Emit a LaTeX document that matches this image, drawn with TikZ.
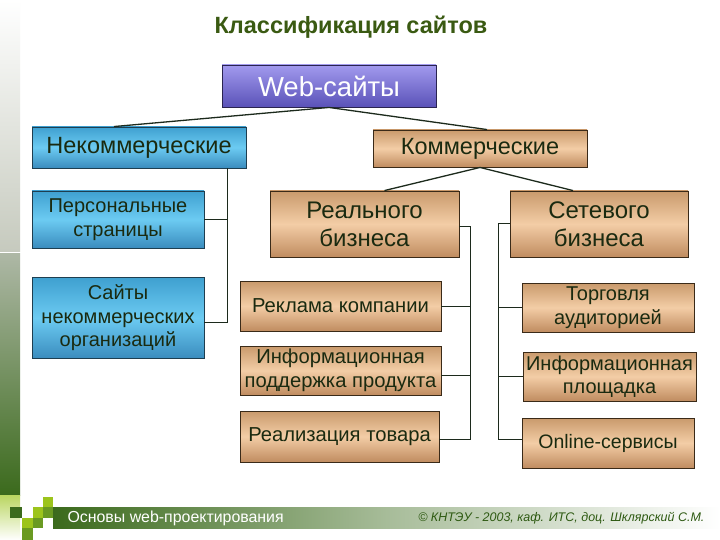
\documentclass[tikz,border=0pt]{standalone}
\usepackage{fontspec}
\setmainfont{Liberation Sans}
\definecolor{txtdark}{HTML}{1A2A10}
\definecolor{titlegreen}{HTML}{3A5A12}
\definecolor{copygreen}{HTML}{2E5A12}
\definecolor{linec}{HTML}{1C2A1C}
\definecolor{blueT}{HTML}{3FA0D0}
\definecolor{blueM}{HTML}{6CCBF2}
\definecolor{blueB}{HTML}{3A8CBE}
\definecolor{blueD}{HTML}{1E3E50}
\definecolor{tanT}{HTML}{C99A6C}
\definecolor{tanM}{HTML}{F3CDA6}
\definecolor{tanB}{HTML}{C08C60}
\definecolor{tanD}{HTML}{3A2A18}
\definecolor{purT}{HTML}{A29AEE}
\definecolor{purB}{HTML}{5A52B8}
\definecolor{purD}{HTML}{2A2450}
\definecolor{gDark}{HTML}{3B6A1C}
\definecolor{gMid}{HTML}{6A9A22}
\definecolor{gLight}{HTML}{9CC41C}
\definecolor{sideTop}{HTML}{C6CABE}
\definecolor{sideMid}{HTML}{AEB8A6}
\tikzset{
  box/.style={rectangle, inner sep=0pt, align=center, text=txtdark, line width=0.9pt},
  bluebox/.style={box, draw=blueD, top color=blueT, bottom color=blueB, middle color=blueM},
  tanbox/.style={box, draw=tanD, top color=tanT, bottom color=tanB, middle color=tanM},
  purbox/.style={box, draw=purD, top color=purT, bottom color=purB, text=white},
  conn/.style={draw=linec, line width=1pt},
  fs/.code={\pgfmathsetmacro\fsbl{#1*1.17}\tikzset{font=\fontsize{#1}{\fsbl}\selectfont}}
}
\begin{document}
\begin{tikzpicture}[x=1pt,y=-1pt]
\useasboundingbox (0,0) rectangle (720,540);
\fill[white] (0,0) rectangle (720,540);
% sidebar
\fill[top color=white, bottom color=sideTop] (0,0) rectangle (20,251);
\fill[top color=sideMid, bottom color=gDark] (0,253) rectangle (20,495);
\fill[top color=gLight!70, bottom color=white] (0,495) rectangle (20,540);
% bottom bar
\fill[left color=gDark, right color=white, middle color=gDark!45!white] (53,507) rectangle (720,528);
% squares
\fill[gLight] (43,497) rectangle (53,507);
\fill[gDark] (10,507) rectangle (22,518);
\fill[gLight] (33,507) rectangle (43,518);
\fill[gMid] (43,507) rectangle (53,518);
\fill[gLight] (22,518) rectangle (33,528);
\fill[gMid] (33,518) rectangle (43,528);
\fill[gMid] (22,528) rectangle (33,540);

% title
\node[text=titlegreen, font=\bfseries\fontsize{23.5}{27}\selectfont] (title) at (351,27) {Классификация сайтов};

% boxes
\node[purbox, minimum width=214pt, minimum height=42pt, fs=27.5] (web) at (329,86) {Web-сайты};
\node[bluebox, minimum width=214pt, minimum height=41pt, fs=23.5] (nonc) at (139,147.5) {Некоммерческие};
\node[tanbox, minimum width=214pt, minimum height=37pt, fs=23.5] (comm) at (480,148.5) {Коммерческие};
\node[bluebox, minimum width=172pt, minimum height=57pt, fs=20] (pers) at (118,219.5) {Персональные\\страницы};
\node[bluebox, minimum width=172pt, minimum height=81pt, fs=20] (org) at (118,318) {Сайты\\некоммерческих\\организаций};
\node[tanbox, minimum width=189pt, minimum height=66pt, fs=24] (real) at (364.5,224) {Реального\\бизнеса};
\node[tanbox, minimum width=178pt, minimum height=66pt, fs=24] (net) at (599,224) {Сетевого\\бизнеса};
\node[tanbox, minimum width=201pt, minimum height=50pt, fs=20.2] (adv) at (340.5,306) {Реклама компании};
\node[tanbox, minimum width=201pt, minimum height=49pt, fs=20.2] (info) at (340.5,370.5) {Информационная\\поддержка продукта};
\node[tanbox, minimum width=199pt, minimum height=51pt, fs=20.2] (sale) at (339.5,436.5) {Реализация товара};
\node[tanbox, minimum width=172pt, minimum height=49pt, fs=20] (trade) at (608,307.5) {Торговля\\аудиторией};
\node[tanbox, minimum width=173pt, minimum height=49pt, fs=20] (plat) at (609.5,376.5) {Информационная\\площадка};
\node[tanbox, minimum width=172pt, minimum height=50pt, fs=19.5] (online) at (608,443) {Online-сервисы};

% connectors
\draw[conn, line width=1.3pt] (web.south) -- ([xshift=-25pt]nonc.north);
\draw[conn, line width=1.3pt] (web.south) -- ([xshift=7pt]comm.north);
\draw[conn, line width=1.3pt] (comm.south) -- ([xshift=20pt]real.north);
\draw[conn, line width=1.3pt] (comm.south) -- ([xshift=-26pt]net.north);
\draw[conn] ([xshift=88pt]nonc.south) |- (pers.east);
\draw[conn] ([xshift=88pt]nonc.south) |- ([yshift=-4pt]org.east);
\draw[conn] ([yshift=-3pt]real.east) -- ++(11,0) |- ([yshift=-3pt]sale.east);
\draw[conn] (adv.east) -- ++(29,0);
\draw[conn] ([yshift=-5pt]info.east) -- ++(29,0);
\draw[conn] (net.west) -- ++(-11,0) |- ([yshift=4pt]online.west);
\draw[conn] (trade.west) -- ++(-23,0);
\draw[conn] (plat.west) -- ++(-24,0);

% footer
\node[anchor=west, text=white, fs=15.9] (foot) at (64,518) {Основы web-проектирования};
\node[anchor=east, text=copygreen, font=\itshape\fontsize{12.5}{14}\selectfont] (copy) at (708,518) {© КНТЭУ - 2003, каф. ИТС, доц. Шклярский С.М.};
\end{tikzpicture}
\end{document}
